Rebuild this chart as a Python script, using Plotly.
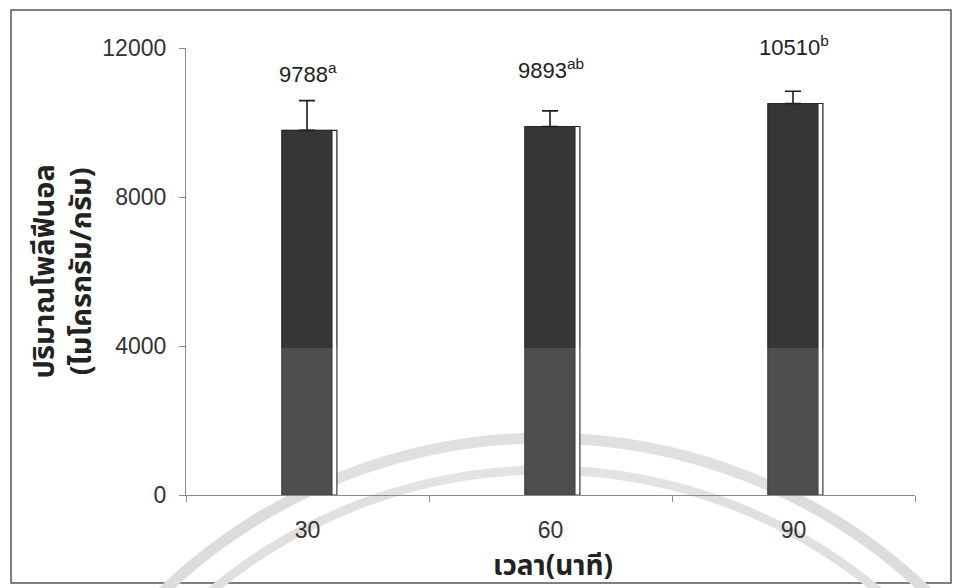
import plotly.graph_objects as go

# ---- data ----
categories = ["30", "60", "90"]
values = [9788, 9893, 10510]
errors = [800, 420, 330]
letters = ["a", "ab", "b"]
y_ticks = [0, 4000, 8000, 12000]

W, H = 960, 588
L, R, T, B = 186, 45, 48, 93
pw, ph = W - L - R, H - T - B
Y_MAX = 12000

def px2paper_x(px):
    return (px - L) / pw

def px2paper_y(py):
    return (H - B - py) / ph

fig = go.Figure()

# white "side" of each bar (3D-look outline)
fig.add_trace(go.Bar(
    x=categories, y=values,
    width=0.226, offset=-0.105,
    marker=dict(color="white", line=dict(color="#222222", width=1.2)),
    hoverinfo="skip", showlegend=False,
))
# dark front face with error bars
fig.add_trace(go.Bar(
    x=categories, y=values,
    width=0.206, offset=-0.105,
    marker=dict(color="#363636", line=dict(color="#2a2a2a", width=1)),
    error_y=dict(type="data", symmetric=False, array=errors,
                 arrayminus=[0] * len(errors),
                 color="#1e1e1e", thickness=1.6, width=8),
    hoverinfo="skip", showlegend=False,
))

annotations = []
for i, (v, l) in enumerate(zip(values, letters)):
    annotations.append(dict(
        x=i, y=(v + 1550) / Y_MAX, xref="x", yref="paper",
        text=f"{v}<sup>{l}</sup>", showarrow=False,
        xanchor="center", yanchor="middle",
        font=dict(family="Liberation Sans, Arial, sans-serif", size=22, color="#222222"),
    ))

thai_font = "Tahoma, Noto Sans Thai, Noto Sans, DejaVu Sans, sans-serif"
# axis titles
annotations.append(dict(
    x=px2paper_x(63), y=0.5, xref="paper", yref="paper",
    text="<b>ปริมาณโพลีฟีนอล<br>(ไมโครกรัม/กรัม)</b>", showarrow=False,
    textangle=-90, xanchor="center", yanchor="middle",
    font=dict(family=thai_font, size=29, color="#222222"),
))
annotations.append(dict(
    x=px2paper_x(553), y=px2paper_y(566), xref="paper", yref="paper",
    text="<b>เวลา(นาที)</b>", showarrow=False,
    xanchor="center", yanchor="middle",
    font=dict(family=thai_font, size=28, color="#222222"),
))

shapes = [
    # outer frame of the chart
    dict(type="rect", xref="paper", yref="paper",
         x0=px2paper_x(11), x1=px2paper_x(951), y0=px2paper_y(583), y1=px2paper_y(10),
         line=dict(color="#555555", width=1.5), fillcolor="rgba(0,0,0,0)", layer="below"),
    # faint watermark arcs
    dict(type="circle", xref="paper", yref="paper",
         x0=px2paper_x(545 - 552), x1=px2paper_x(545 + 552),
         y0=px2paper_y(990 + 552), y1=px2paper_y(990 - 552),
         line=dict(color="#dcdcdc", width=11), layer="below"),
    dict(type="circle", xref="paper", yref="paper",
         x0=px2paper_x(545 - 520), x1=px2paper_x(545 + 520),
         y0=px2paper_y(990 + 520), y1=px2paper_y(990 - 520),
         line=dict(color="#e0e0e0", width=9), layer="below"),
    # lighter lower band of the scanned bars
    dict(type="rect", xref="paper", yref="y",
         x0=0, x1=1, y0=0, y1=3950,
         line=dict(width=0), fillcolor="rgba(255,255,255,0.12)", layer="above"),
]

fig.update_layout(
    width=W, height=H,
    margin=dict(l=L, r=R, t=T, b=B, pad=0),
    paper_bgcolor="white", plot_bgcolor="rgba(0,0,0,0)",
    barmode="overlay",
    showlegend=False,
    annotations=annotations,
    shapes=shapes,
    font=dict(family="Liberation Sans, Arial, sans-serif", color="#333333"),
)
fig.update_xaxes(
    type="category", range=[-0.5, 2.5],
    showline=True, linecolor="#8a8a8a", linewidth=1.2,
    ticks="outside", tickson="boundaries", ticklen=6, tickcolor="#8a8a8a",
    showgrid=False, zeroline=False,
    tickfont=dict(size=23, color="#333333"),
    ticklabelstandoff=14,
)
fig.update_yaxes(
    range=[0, Y_MAX], tickvals=y_ticks, tickformat="d",
    showline=True, linecolor="#8a8a8a", linewidth=1.2,
    ticks="outside", ticklen=6, tickcolor="#8a8a8a",
    showgrid=False, zeroline=False,
    tickfont=dict(size=23, color="#333333"),
    ticklabelstandoff=8,
)

fig.write_html("out.html", config={"displayModeBar": False},
               post_script="document.body.style.margin='0px';")
